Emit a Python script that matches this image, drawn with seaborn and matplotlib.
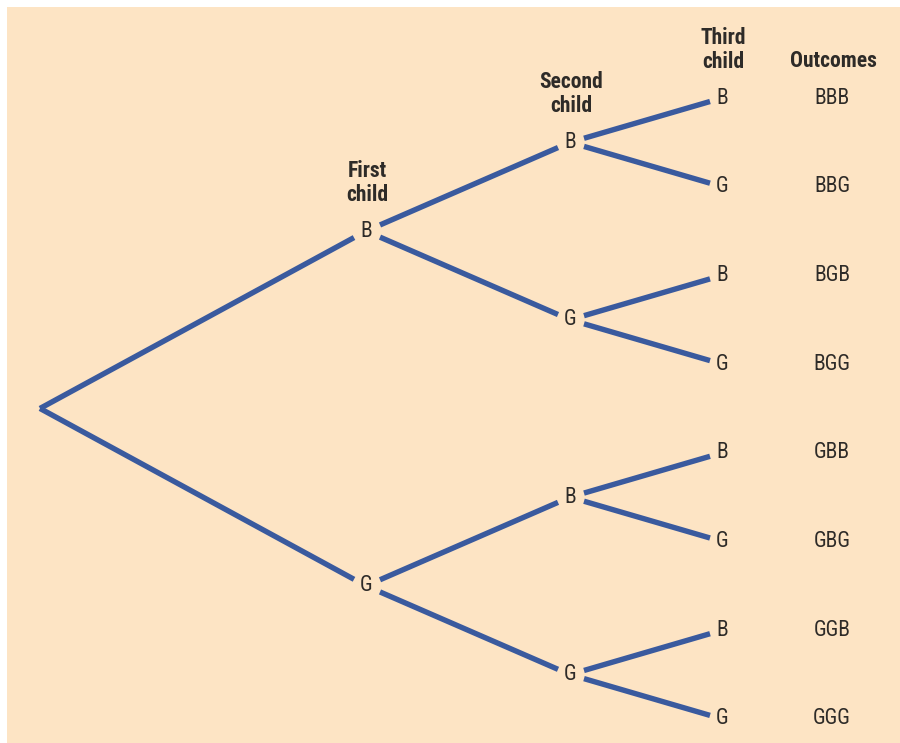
import numpy as np
import pandas as pd
import matplotlib
matplotlib.use("Agg")
import matplotlib.pyplot as plt
from matplotlib import font_manager as fm
import seaborn as sns

# ---- data ----
level_headers = ["", "First\nchild", "Second\nchild", "Third\nchild"]
outcome_header = "Outcomes"
branch_labels = ["B", "G"]
outcomes = ["BBB", "BBG", "BGB", "BGG", "GBB", "GBG", "GGB", "GGG"]

# ---- layout ----
W, H = 900, 743
level_x = [40, 366, 570, 722]
outcome_x = 832
leaf_top, leaf_step = 98, 88.7
start_gap, end_gap = 14, 12
line_color = "#3A5A9E"
text_color = "#2E2B28"
bg = "#FDE4C4"
fs = 15.5

sns.set_theme(style="white")

cond_family = None
names = sorted({f.name for f in fm.fontManager.ttflist})
for cand in ["Liberation Sans Narrow", "Roboto Condensed", "Open Sans Condensed",
             "DejaVu Sans Condensed", "Noto Sans Condensed"]:
    if cand in names:
        cond_family = cand
        break
stretch = "normal"
if cond_family is None:
    for f in fm.fontManager.ttflist:
        if "ondensed" in f.fname and f.name in ("DejaVu Sans", "Roboto", "Noto Sans", "Open Sans"):
            cond_family = f.name
            stretch = "condensed"
            break
if cond_family is None:
    cond_family = "DejaVu Sans"
plt.rcParams["font.family"] = [cond_family, "DejaVu Sans"]
plt.rcParams["font.stretch"] = stretch

fig = plt.figure(figsize=(W / 100, H / 100), dpi=100, facecolor="white")
ax = fig.add_axes([7 / W, 0, (W - 7) / W, (H - 7) / H])
ax.set_facecolor(bg)
ax.set_xlim(7, W)
ax.set_ylim((H - leaf_top) / leaf_step, (7 - leaf_top) / leaf_step)
for s in ax.spines.values():
    s.set_visible(False)
ax.set_xticks([])
ax.set_yticks([])

nodes = {}
for depth in range(4):
    n = 2 ** depth
    span = 8 // n
    for k in range(n):
        path = "".join(branch_labels[(k >> (depth - 1 - j)) & 1] for j in range(depth))
        nodes[(depth, path)] = k * span + (span - 1) / 2

rows = []
eid = 0
for (depth, path), y0 in nodes.items():
    if depth == 3:
        continue
    for b in branch_labels:
        y1 = nodes[(depth + 1, path + b)]
        x0, x1 = level_x[depth], level_x[depth + 1]
        xs = x0 + (start_gap if depth > 0 else 0)
        xe = x1 - end_gap
        ys = y0 + (y1 - y0) * (xs - x0) / (x1 - x0)
        ye = y0 + (y1 - y0) * (xe - x0) / (x1 - x0)
        rows.append(dict(x=xs, y=ys, edge=eid))
        rows.append(dict(x=xe, y=ye, edge=eid))
        eid += 1
edges = pd.DataFrame(rows)
sns.lineplot(data=edges, x="x", y="y", units="edge", estimator=None, sort=False,
             color=line_color, lw=3.9, ax=ax, legend=False,
             solid_capstyle="butt")
ax.set_xlabel("")
ax.set_ylabel("")

for (depth, path), y in nodes.items():
    if depth == 0:
        continue
    ax.text(level_x[depth], y, path[-1], ha="center", va="center",
            fontsize=fs, color=text_color)
    if depth == 3:
        ax.text(outcome_x, y, outcomes[int(round(y))], ha="center", va="center",
                fontsize=fs, color=text_color)

head_off = 48 / leaf_step
for depth in range(1, 4):
    top_y = min(y for (d, p), y in nodes.items() if d == depth)
    ax.text(level_x[depth] + 1, top_y - head_off, level_headers[depth],
            ha="center", va="center", fontsize=fs, fontweight="bold",
            color=text_color, linespacing=1.12)
ax.text(outcome_x + 1, nodes[(3, "BBB")] - 37 / leaf_step, outcome_header,
        ha="center", va="center", fontsize=fs, fontweight="bold",
        color=text_color)

fig.savefig("out.png", dpi=100, facecolor="white")
